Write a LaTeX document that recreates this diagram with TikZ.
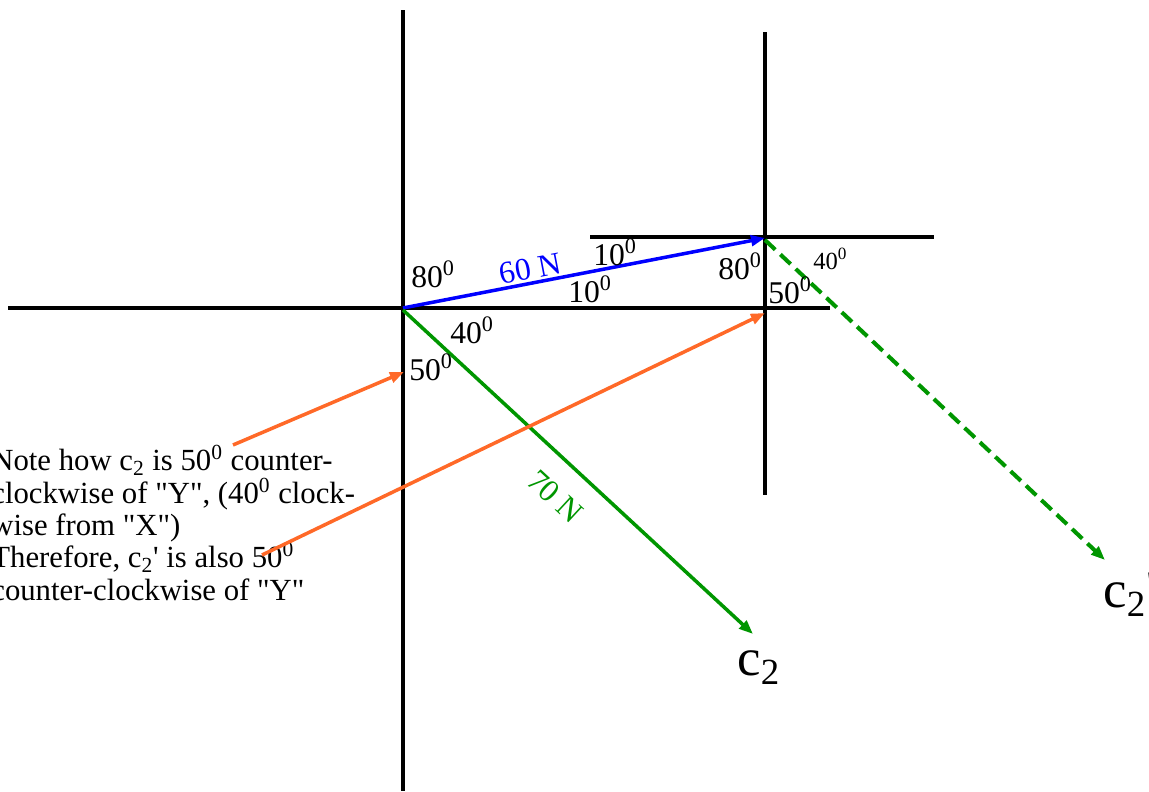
\documentclass[tikz,border=0pt]{standalone}
\usepackage{fontspec}
\setmainfont[Ligatures=TeXOff]{Liberation Serif}
\usetikzlibrary{arrows.meta,positioning,calc}
\definecolor{vecgreen}{RGB}{0,150,0}
\definecolor{pointer}{RGB}{255,105,40}

\begin{document}
\begin{tikzpicture}[x=0.02cm, y=-0.02cm, >={Triangle[length=8pt,width=6pt]}, line join=round,
  axis/.style={line width=2.3pt},
  vec/.style={line width=2pt, ->},
  ang/.style={anchor=base west, inner sep=0pt, font=\fontsize{18}{18}\selectfont},
  tag/.style={anchor=base west, inner sep=0pt, font=\fontsize{30}{30}\selectfont}]
\useasboundingbox (0,0) rectangle (1149,791);
% axes at the tail of the first vector
\coordinate (O) at (403,308);
\draw[axis] (403,10) -- (403,791);
\draw[axis] (8,308) -- (830,308);
% axes at the head of the first vector
\coordinate (P) at (765,238);
\draw[axis] (765,32) -- (765,495);
\draw[axis] (590,237) -- (934,237);
% vectors
\coordinate (C) at (753,634);
\coordinate (D) at (1105,560);
\draw[vec, blue] (O) -- node[pos=0.36, sloped, above, inner sep=1pt, font=\fontsize{18}{18}\selectfont] {60 N} (P);
\draw[vec, vecgreen] ($(O)+(0,2)$) -- node[pos=0.5, sloped, below=12pt, inner sep=0pt, font=\fontsize{18}{18}\selectfont] {70 N} (C);
\draw[vec, vecgreen, line width=2.3pt, dash pattern=on 8pt off 4pt] ($(P)+(0,2)$) -- (D);
\node[tag] (c2) at (737,675) {c\textsubscript{2}};
\node[tag] (c2p) at (1103,607) {c\textsubscript{2}'};
% angles
\node[ang] at (411,287) {80\textsuperscript{0}};
\node[ang] at (593,265) {10\textsuperscript{0}};
\node[ang] at (568,302) {10\textsuperscript{0}};
\node[ang] at (718,279) {80\textsuperscript{0}};
\node[ang] at (768,303) {50\textsuperscript{0}};
\node[ang, font=\fontsize{14}{14}\selectfont] at (813,269) {40\textsuperscript{0}};
\node[ang] at (450,343) {40\textsuperscript{0}};
\node[ang] at (409,380) {50\textsuperscript{0}};
% note
\node[anchor=base west, inner sep=0pt, align=left, font=\fontsize{17.5}{18.4}\selectfont] (note) at (-9,600)
  {Note how c\textsubscript{2} is 50\textsuperscript{0} counter-\\
   clockwise of "Y", (40\textsuperscript{0} clock-\\
   wise from "X")\\
   Therefore, c\textsubscript{2}' is also 50\textsuperscript{0}\\
   counter-clockwise of "Y"};
\coordinate (n1) at (233,445);
\coordinate (n2) at (262,555);
\draw[vec, pointer] (n1) -- (404,372);
\draw[vec, pointer] (n2) -- (765,313);
\end{tikzpicture}
\end{document}
